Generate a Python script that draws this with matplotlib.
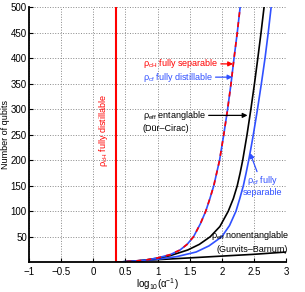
import matplotlib
matplotlib.use('Agg')
import matplotlib.pyplot as plt

plt.rcParams['font.family'] = ['Liberation Sans', 'DejaVu Sans']
plt.rcParams['mathtext.fontset'] = 'custom'
plt.rcParams['mathtext.rm'] = 'Liberation Sans'
plt.rcParams['mathtext.it'] = 'Liberation Sans:italic'
plt.rcParams['axes.unicode_minus'] = True

# vertical line: fully distillable threshold (log10(1/alpha))
x_distill = 0.355

# red/blue dashed curve (rho_cH fully separable == rho_cf fully distillable)
sep_n = [0, 2, 4, 8, 15, 24, 35, 50, 75, 100, 125, 150, 175, 200, 250, 300, 350, 400, 450, 500]
sep_x = [0.36, 0.6, 0.8, 0.99, 1.2, 1.35, 1.46, 1.56, 1.665, 1.75, 1.815, 1.875, 1.92, 1.965,
         2.03, 2.09, 2.143, 2.19, 2.24, 2.285]

# black curve: rho_eff entanglable (Dur-Cirac)
ent_n = [0, 2, 4, 8, 13, 24, 35, 50, 70, 100, 125, 150, 175, 200, 250, 300, 350, 400, 450, 500]
ent_x = [0.36, 0.62, 0.8, 1.0, 1.2, 1.47, 1.65, 1.82, 1.97, 2.10, 2.18, 2.24, 2.285, 2.325,
         2.392, 2.452, 2.508, 2.56, 2.61, 2.657]

# blue curve: rho_cf fully separable
cfs_n = [0, 2, 4, 6, 11, 20, 32, 50, 72, 100, 125, 150, 175, 200, 225, 250, 300, 350, 400, 450, 500]
cfs_x = [0.36, 0.65, 0.85, 1.01, 1.3, 1.6, 1.8, 2.0, 2.12, 2.22, 2.28, 2.335, 2.378, 2.418,
         2.455, 2.49, 2.555, 2.615, 2.672, 2.722, 2.767]

# black low line: rho_eff nonentanglable (Gurvits-Barnum)
gb_x = [0.36, 1.0, 1.5, 2.0, 2.5, 3.0]
gb_n = [0, 5, 8.5, 12, 15.5, 20]

xticks = [-1, -0.5, 0, 0.5, 1, 1.5, 2, 2.5, 3]
yticks = [50, 100, 150, 200, 250, 300, 350, 400, 450, 500]

RED = '#ff0000'
BLUE = '#3050ff'

fig = plt.figure(figsize=(3.05, 2.92), dpi=100)
ax = fig.add_axes([0.095, 0.102, 0.843, 0.873])

ax.plot(gb_x, gb_n, color='k', lw=1.2)
ax.plot(cfs_x, cfs_n, color=BLUE, lw=1.2)
ax.plot(ent_x, ent_n, color='k', lw=1.2)
ax.plot(sep_x, sep_n, color=BLUE, lw=1.2)
ax.plot(sep_x, sep_n, color=RED, lw=1.2, dashes=(3, 3))
ax.plot([x_distill, x_distill], [0, 500], color=RED, lw=1.5)

ax.set_xlim(-1, 3)
ax.set_ylim(0, 500)
ax.set_xticks(xticks)
ax.set_xticklabels(['\u22121', '\u22120.5', '0', '0.5', '1', '1.5', '2', '2.5', '3'])
ax.set_yticks(yticks)
ax.tick_params(direction='in', length=3, labelsize=7, width=0.8)
ax.tick_params(axis='y', pad=1.5)
ax.grid(True, linestyle=':', color='#888888', lw=0.7)
ax.spines['top'].set_visible(False)
ax.spines['right'].set_visible(False)
ax.spines['left'].set_linewidth(1.3)
ax.spines['bottom'].set_linewidth(1.3)

ax.set_xlabel('log$_{10}$(\u03b1$^{-1}$)', fontsize=7)
ax.xaxis.set_label_coords(0.5, -0.055)
ax.set_ylabel('Number of qubits', fontsize=6.5)
ax.yaxis.set_label_coords(-0.072, 0.5)

fs = 6.5
ax.text(0.16, 259, '\u03c1$_{\\mathrm{cH}}$ fully distillable', color=RED, fontsize=fs,
        rotation=90, ha='center', va='center')

arr = dict(arrowstyle='-|>', lw=0.9, mutation_scale=7, shrinkA=0, shrinkB=0)
ax.annotate('\u03c1$_{\\mathrm{cH}}$ fully separable', xy=(2.175, 389), xytext=(0.77, 389),
            color=RED, fontsize=fs, va='center', ha='left',
            arrowprops=dict(arr, color=RED))
ax.annotate('\u03c1$_{\\mathrm{cf}}$ fully distillable', xy=(2.165, 363), xytext=(0.77, 363),
            color=BLUE, fontsize=fs, va='center', ha='left',
            arrowprops=dict(arr, color=BLUE))
ax.annotate('\u03c1$_{\\mathrm{eff}}$ entanglable', xy=(2.40, 288), xytext=(0.77, 288),
            color='k', fontsize=fs, va='center', ha='left',
            arrowprops=dict(arr, color='k'))
ax.text(0.77, 262, '(D\u00fcr\u2013Cirac)', color='k', fontsize=fs, va='center', ha='left')

ax.annotate('\u03c1$_{\\mathrm{cf}}$ fully\nseparable', xy=(2.44, 214), xytext=(2.63, 150),
            color=BLUE, fontsize=fs, va='center', ha='center', linespacing=1.1,
            arrowprops=dict(arr, color=BLUE))
ax.text(2.44, 52, '\u03c1$_{\\mathrm{eff}}$ nonentanglable', color='k', fontsize=fs,
        va='center', ha='center')
ax.text(2.47, 25, '(Gurvits\u2013Barnum)', color='k', fontsize=fs, va='center', ha='center')

fig.savefig('out.png', dpi=100)
